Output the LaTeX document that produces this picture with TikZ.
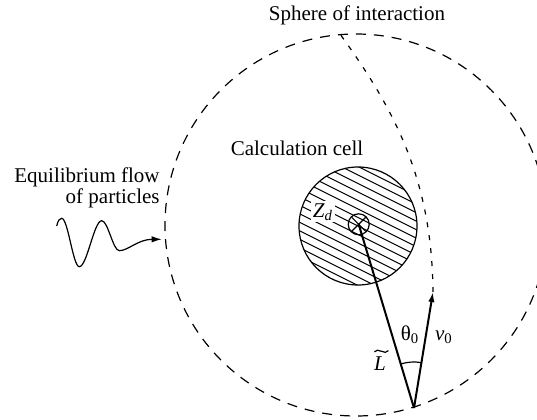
\documentclass[tikz,border=0pt]{standalone}
\usepackage{fontspec}
\setmainfont{Liberation Serif}
\usetikzlibrary{arrows.meta, angles, positioning}

\begin{document}
\begin{tikzpicture}[x=0.5pt, y=-0.5pt,
    lbl/.style={font=\fontsize{10.5}{10.5}\selectfont, inner sep=0pt},
    thin line/.style={line width=0.6pt},
    bigdash/.style={thin line, dash pattern=on 5pt off 4pt},
    pathdash/.style={thin line, dash pattern=on 2.5pt off 4pt},
    vec/.style={line width=1pt, -{Latex[length=5pt,width=3.2pt]}},
    hatch/.style={line width=0.5pt}
  ]
  \useasboundingbox (0,0) rectangle (537,419);

  \coordinate (centre) at (356,225);
  \coordinate (cellc) at (358,226);
  \coordinate (dust) at (358.7,224.3);
  \coordinate (apex) at (414,408);
  \coordinate (tip) at (433,292);
  \coordinate (top) at (340,34);
  \coordinate (wstart) at (56.7,226);
  \coordinate (wend) at (161.7,239.3);

  % sphere of interaction
  \begin{scope}
    \clip (0,0) rectangle (537,419);
    \draw[bigdash] (centre) circle[radius=191];
  \end{scope}

  % calculation cell
  \begin{scope}
    \clip (cellc) circle[radius=59];
    \foreach \k in {-9,...,9}
      \draw[hatch] ({358-3.4*\k-72},{226+6.8*\k-36}) -- ++(144,72);
  \end{scope}
  \draw[thin line] (cellc) circle[radius=59];

  \node[lbl, fill=white, inner sep=1pt, anchor=base] (zd) at (323,217) {\textit{Z}\textsubscript{\textit{d}}};

  % grain
  \draw[thin line] (dust) circle[radius=10.5];
  \draw[thin line] (dust) ++(-7,-7) -- ++(14,14) (dust) ++(7,-7) -- ++(-14,14);

  % trajectory and vectors
  \draw[pathdash] (tip) .. controls (432,180) and (395,110) .. (top);
  \draw[vec] (apex) -- (tip);
  \draw[line width=1pt] (apex) -- (dust);
  \pic[draw, thin line, angle radius=23pt] {angle=tip--apex--dust};

  % incoming flow
  \draw[thin line, -{Latex[length=5pt,width=3.2pt]}] (wstart) .. controls (58,220) and (60,218.3) .. (61.7,218.3)
    .. controls (68,218.3) and (73,266.7) .. (79.3,266.7)
    .. controls (87,266.7) and (94,220.7) .. (101.7,220.7)
    .. controls (108,220.7) and (113,250.7) .. (119.3,250.7)
    .. controls (128,250.7) and (138,239.3) .. (wend);

  % labels
  \node[lbl, anchor=base] (sphere) at (357,20) {Sphere of interaction};
  \node[lbl, anchor=base] (cell) at (297,155) {Calculation cell};
  \node[lbl, align=right, anchor=north east] (flow) at (160,167.5) {Equilibrium flow\\of particles};
  \node[lbl, anchor=base] (theta) at (410,340) {θ\textsubscript{0}};
  \node[lbl, anchor=base] (vel) at (444,340) {\textit{v}\textsubscript{0}};
  \node[lbl, anchor=base] (len) at (380,370) {\textit{L}};
  \draw[thin line] ([xshift=-2.8pt,yshift=2pt]len.north) .. controls +(1.6pt,2.6pt) and +(-1.6pt,-2.6pt) .. ([xshift=4.2pt,yshift=2.6pt]len.north);
\end{tikzpicture}
\end{document}
